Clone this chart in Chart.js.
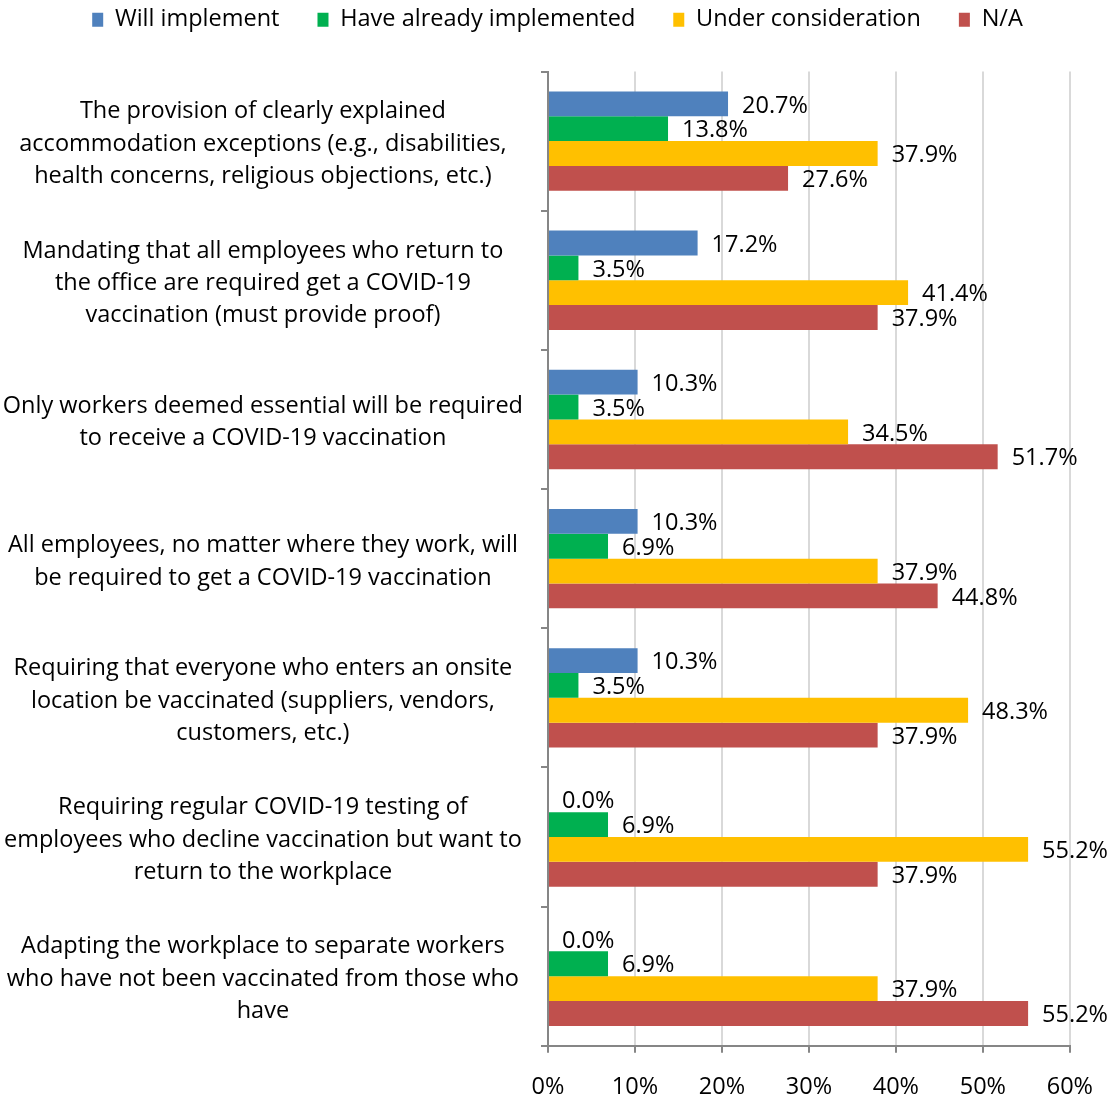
<!DOCTYPE html>
<html>
<head>
<meta charset="utf-8">
<script src="https://cdn.jsdelivr.net/npm/chart.js@4"></script>
<style>
  html, body { margin: 0; padding: 0; background: #fff; overflow: hidden; }
  #wrap { position: relative; width: 1113px; height: 1099px; overflow: hidden; }
  /* legend row padding sits above the visible page */
  #wrap canvas { position: absolute; left: 0; top: -30px; }
</style>
</head>
<body>
<div id="wrap"><canvas id="chart" width="1113" height="1151"></canvas></div>
<script>
// Categorias (linhas do eixo Y)
const categories = [
  ['The provision of clearly explained', 'accommodation exceptions (e.g., disabilities,', 'health concerns, religious objections, etc.)'],
  ['Mandating that all employees who return to', 'the office are required get a COVID-19', 'vaccination (must provide proof)'],
  ['Only workers deemed essential will be required', 'to receive a COVID-19 vaccination'],
  ['All employees, no matter where they work, will', 'be required to get a COVID-19 vaccination'],
  ['Requiring that everyone who enters an onsite', 'location be vaccinated (suppliers, vendors,', 'customers, etc.)'],
  ['Requiring regular COVID-19 testing of', 'employees who decline vaccination but want to', 'return to the workplace'],
  ['Adapting the workplace to separate workers', 'who have not been vaccinated from those who', 'have']
];

const seriesNames = ['Will implement', 'Have already implemented', 'Under consideration', 'N/A'];

// Valores em %
const willImplement = [20.7, 17.2, 10.3, 10.3, 10.3, 0.0, 0.0];
const alreadyImplemented = [13.8, 3.5, 3.5, 6.9, 3.5, 6.9, 6.9];
const underConsideration = [37.9, 41.4, 34.5, 37.9, 48.3, 55.2, 37.9];
const notApplicable = [27.6, 37.9, 51.7, 44.8, 37.9, 37.9, 55.2];

const xTicks = [0, 10, 20, 30, 40, 50, 60];

const FONT = '"Open Sans", "Liberation Sans", sans-serif';
const FSIZE = 23.5;
const axisGray = '#868686';

Chart.defaults.color = '#000';
Chart.defaults.font.family = FONT;
Chart.defaults.font.size = FSIZE;

// Espaço extra abaixo da legenda (e um leve deslocamento para a direita)
const legendGap = {
  id: 'legendGap',
  beforeInit(chart) {
    const origFit = chart.legend.fit;
    chart.legend.fit = function fit() {
      origFit.bind(chart.legend)();
      this.height += 30;
      this.lineWidths = this.lineWidths.map(w => w - 42);
    };
  }
};

// Rótulos de valor ao lado de cada barra
const barLabels = {
  id: 'barLabels',
  afterDatasetsDraw(chart) {
    const ctx = chart.ctx;
    ctx.save();
    ctx.font = FSIZE + 'px ' + FONT;
    ctx.fillStyle = '#000';
    ctx.textAlign = 'left';
    ctx.textBaseline = 'middle';
    chart.data.datasets.forEach((ds, i) => {
      const meta = chart.getDatasetMeta(i);
      meta.data.forEach((bar, j) => {
        ctx.fillText(ds.data[j].toFixed(1) + '%', bar.x + 14, bar.y + 2);
      });
    });
    ctx.restore();
  }
};

new Chart(document.getElementById('chart'), {
  type: 'bar',
  data: {
    labels: categories,
    datasets: [
      { label: seriesNames[0], data: willImplement, backgroundColor: '#4F81BD' },
      { label: seriesNames[1], data: alreadyImplemented, backgroundColor: '#00B050' },
      { label: seriesNames[2], data: underConsideration, backgroundColor: '#FFC000' },
      { label: seriesNames[3], data: notApplicable, backgroundColor: '#C0504D' }
    ]
  },
  options: {
    indexAxis: 'y',
    responsive: false,
    animation: false,
    devicePixelRatio: 1,
    datasets: {
      bar: { barPercentage: 1, categoryPercentage: 0.714, borderWidth: 0 }
    },
    layout: { padding: { left: 0, right: 40, top: 0, bottom: 0 } },
    plugins: {
      legend: {
        position: 'top',
        labels: { boxWidth: 11, boxHeight: 14, padding: 38, color: '#000', font: { size: FSIZE } }
      },
      tooltip: { enabled: false }
    },
    scales: {
      x: {
        min: 0,
        max: 60,
        afterBuildTicks: axis => { axis.ticks = xTicks.map(v => ({ value: v })); },
        grid: { color: '#d9d9d9', tickColor: axisGray, tickLength: 7, lineWidth: 2 },
        border: { color: axisGray, width: 2 },
        ticks: { padding: 20, callback: v => v + '%', color: '#000' }
      },
      y: {
        afterFit: axis => { axis.width = 548; },
        grid: { drawOnChartArea: false, offset: true, tickLength: 7, color: axisGray, lineWidth: 2 },
        border: { color: axisGray, width: 2 },
        ticks: { crossAlign: 'center', padding: 18, labelOffset: 3, color: '#000', font: { size: FSIZE, lineHeight: 1.38 } }
      }
    }
  },
  plugins: [barLabels, legendGap]
});
</script>
</body>
</html>
